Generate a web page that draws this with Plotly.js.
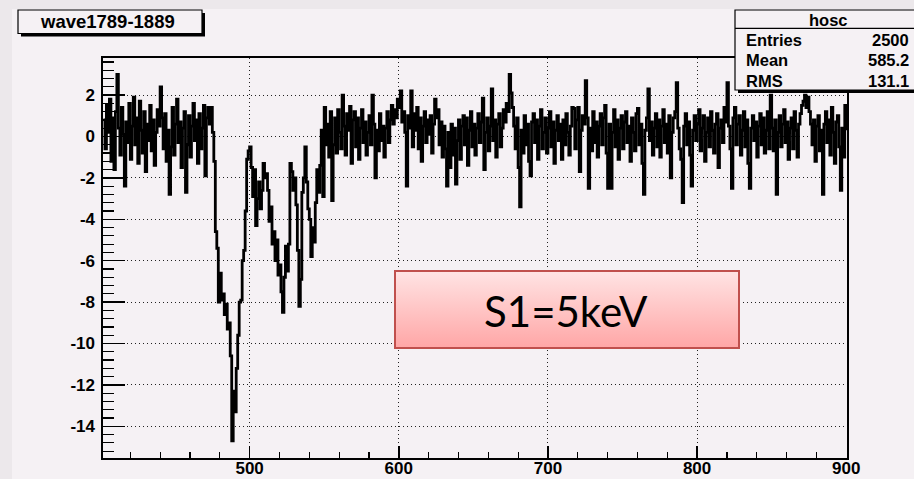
<!DOCTYPE html>
<html><head><meta charset="utf-8">
<script src="https://cdn.plot.ly/plotly-3.0.1.min.js"></script>
<style>html,body{margin:0;padding:0;background:#ece8eb}#chart{width:914px;height:479px}</style>
</head><body><div id="chart"></div>
<script>
// ---- data ----
const binStart = 402;   // first bin shown
const binWidth = 1;
// bins 402..475 : baseline before the pulse
const preTrigger = [
  0.8, -0.6, 1.5, 0.2, 1.8, -1.2, 0.9, -1.6, 1.2, 3.0,
  0.4, -0.9, 1.4, 0.1, -2.4, 0.7, -0.3, 1.6, -1.1, 0.5,
  1.9, -0.4, 0.9, -1.3, 1.7, 0.3, -0.8, 1.2, -1.7, 0.6,
  -0.2, 1.5, -0.7, 0.8, -1.4, 0.2, 1.3, 0.5, 2.4, 0.9,
  -0.6, 1.1, -1.2, 0.3, -2.8, -0.5, 1.4, -0.9, 0.6, 1.8,
  -0.3, 0.7, -1.5, 0.4, 1.2, -2.7, -0.4, 1.0, -1.0, 0.5,
  1.6, -0.2, 0.8, -1.3, 1.1, -0.6, 0.4, 1.5, -1.9, 0.9,
  1.4, 0.6, 1.4, 0.2
];
// bins 476..550 : the S1 pulse
const pulse = [
  -1.2, -4.6, -5.4, -8.0, -6.6, -7.9, -7.6, -8.6, -8.1, -9.3,
  -9.0, -10.6, -14.7, -12.3, -13.3, -11.2, -9.6, -8.0, -7.9, -6.0,
  -5.5, -3.6, -1.1, -0.7, -0.5, -1.5, -2.9, -1.6, -4.3, -3.0,
  -2.2, -3.5, -2.6, -1.3, -2.0, -1.8, -2.6, -4.1, -3.4, -5.2,
  -4.6, -6.0, -5.0, -6.7, -6.2, -7.5, -8.5, -6.8, -5.3, -6.5,
  -5.2, -1.3, -1.7, -2.6, -2.0, -3.3, -5.5, -8.2, -6.9, -2.7,
  -2.0, -0.5, -2.2, -3.5, -4.0, -5.8, -4.4, -5.1, -3.2, -1.6,
  -2.7, -1.4, 0.3, -2.9, 1.4
];
// bins 551..900 : baseline after the pulse
const baseline = [
  -0.4, 0.6, -1.0, 1.2, -3.1, -0.4, 0.9, -0.8, 1.3, 0.2,
  -0.6, 2.0, 0.5, -0.9, 1.1, 0.3, 1.45, -1.3, 0.8, 1.2,
  -0.5, 0.9, -1.1, 0.4, 1.3, -0.3, 0.7, -0.9, 0.2, 1.0,
  -0.4, 2.0, 0.6, -2.0, 0.3, -0.7, 1.1, -0.2, 0.5, -1.0,
  0.4, 1.2, -0.3, 0.8, 1.5, 0.6, 1.3, 0.9, 1.8, 1.4,
  2.2, 0.7, 1.2, 0.2, -2.4, 1.0, 0.4, 2.2, -0.5, 1.1,
  0.3, 1.4, -0.6, 0.9, -1.2, 0.5, 1.2, -0.3, 0.8, 0.1,
  1.0, -0.8, 0.6, 1.8, 0.9, 1.3, -0.4, 0.7, -1.0, 0.5,
  -0.6, -2.4, 0.2, -1.5, 0.6, -0.9, 0.4, -2.3, -0.2, 0.8,
  -1.1, 0.5, 1.0, -0.4, 0.9, -1.4, 0.3, 1.2, -0.5, 0.6,
  -0.9, 0.4, 1.1, -0.3, 0.7, 1.85, -1.6, 0.2, 0.9, -0.7,
  0.5, 2.3, -0.2, 0.8, -1.0, 0.6, 1.1, -0.5, 0.4, 1.3,
  0.7, 1.6, 1.2, 3.0, 2.1, 1.4, 0.5, -0.6, 0.9, -1.5,
  -3.4, 0.3, -0.8, 1.0, -0.4, 0.6, -1.2, -1.9, 0.7, 1.1,
  -0.3, 0.8, -1.1, 0.5, 1.3, -0.6, 0.2, 0.9, -0.8, 0.4,
  1.2, -0.5, 0.7, -1.3, 0.3, 1.0, -0.2, 0.6, -1.1, 0.8,
  -0.4, 1.1, 0.2, -0.9, 0.5, 1.4, 1.35, -0.6, 0.8, 1.4,
  -1.7, 0.3, 1.0, 0.6, 2.7, 0.9, -2.5, 0.4, -0.7, 1.2,
  -0.3, 0.7, -1.0, 0.5, 1.1, -0.4, 0.9, 1.5, -0.8, -2.5,
  0.6, -2.5, 0.2, 1.3, -0.5, 0.8, -1.1, 0.4, 1.0, -0.6,
  0.7, 1.2, -0.3, 0.5, -1.2, 0.9, 0.2, -0.7, 1.1, 1.35,
  -0.4, 0.6, -1.3, -2.8, 0.3, 0.9, 2.3, -0.2, 0.7, -0.9,
  0.4, 1.1, -0.5, 0.8, -1.0, 0.5, 1.3, -0.3, 0.6, -0.8,
  1.0, -2.0, 0.2, 0.9, 1.2, 2.6, 0.4, -0.6, -1.1, -3.2,
  0.5, 1.1, -0.4, 0.7, -0.9, -2.4, 0.3, 1.0, -0.2, 0.6,
  1.3, -0.7, 0.4, 1.0, -1.2, 0.2, 0.9, -0.5, 1.2, 0.3,
  -0.8, 0.6, 1.1, -1.5, 0.4, 0.8, -0.3, 1.4, 0.7, 2.6,
  0.5, -0.6, -2.5, 0.9, 1.4, -0.4, 0.6, 1.0, -0.9, 0.3,
  1.2, -0.5, 0.8, -1.3, -2.5, 0.4, 1.0, -0.2, 0.7, -1.0,
  0.5, 1.1, -0.4, 0.9, -0.8, 0.3, 1.2, -0.6, 2.0, 0.4,
  -0.7, 0.8, -2.8, 0.2, 1.0, -0.5, 0.6, 1.3, -0.3, 0.7,
  -1.1, 0.4, 0.9, -0.6, 1.2, 0.3, -1.0, 0.6, 1.1, 1.5,
  1.7, 2.0, 1.4, 1.9, 1.2, 0.6, -0.4, 0.8, -1.2, 0.5,
  1.0, -0.7, 0.3, -2.8, 0.6, 1.2, -0.3, 0.8, -0.9, 1.4,
  0.2, -1.3, 0.7, 1.0, -0.5, -2.6, 0.4, -1.0, 1.5, 0.3
];
const xTickValues = [500, 600, 700, 800, 900];
const xTickLabels = ['500', '600', '700', '800', '900'];
const yTickValues = [-14, -12, -10, -8, -6, -4, -2, 0, 2];
const yTickLabels = ['-14', '-12', '-10', '-8', '-6', '-4', '-2', '0', '2'];
const histTitle = 'wave1789-1889';
const statsName = 'hosc';
const statsLabels = ['Entries', 'Mean', 'RMS'];
const statsValues = ['2500', '585.2', '131.1'];
const noteText = 'S1=5keV';

// ---- layout geometry ----
const W = 914, H = 479, L = 103, R = 67, T = 58, B = 21;
const pw = W - L - R, ph = H - T - B;
const px = v => (v - L) / pw;
const py = v => (H - B - v) / ph;
const BG = '#f5f1f4';
const boldFont = (s) => ({family: 'Liberation Sans, Arial, sans-serif', size: s, weight: 'bold', color: '#000'});

const values = preTrigger.concat(pulse, baseline);

const trace = {
  type: 'scatter', mode: 'lines',
  x0: binStart, dx: binWidth, y: values,
  line: {color: '#000', width: 2.8, shape: 'hv'},
  hoverinfo: 'skip', showlegend: false
};

const gradSvg = "<svg xmlns='http://www.w3.org/2000/svg' width='346' height='79' viewBox='0 0 346 79' preserveAspectRatio='none'>" +
  "<defs><linearGradient id='g' x1='0' y1='0' x2='0' y2='1'><stop offset='0' stop-color='#ffe4e4'/><stop offset='1' stop-color='#ffa6a6'/></linearGradient></defs>" +
  "<rect x='1' y='1' width='344' height='77' fill='url(#g)' stroke='#c0504d' stroke-width='2'/></svg>";
const gradSrc = 'data:image/svg+xml;charset=utf-8,' + encodeURIComponent(gradSvg);

const shapes = [
  {type: 'rect', xref: 'paper', yref: 'paper', x0: px(12), x1: px(916), y0: py(481), y1: py(9), fillcolor: BG, line: {width: 0}, layer: 'below'},
  {type: 'rect', xref: 'paper', yref: 'paper', x0: px(21), x1: px(205), y0: py(36.5), y1: py(13), fillcolor: '#000', line: {width: 0}, layer: 'above'},
  {type: 'rect', xref: 'paper', yref: 'paper', x0: px(18), x1: px(202), y0: py(33.5), y1: py(10), fillcolor: BG, line: {color: '#000', width: 1.2}, layer: 'above'},
  {type: 'rect', xref: 'paper', yref: 'paper', x0: px(738), x1: px(920), y0: py(93), y1: py(13), fillcolor: '#000', line: {width: 0}, layer: 'above'},
  {type: 'rect', xref: 'paper', yref: 'paper', x0: px(735), x1: px(918), y0: py(90), y1: py(10), fillcolor: BG, line: {color: '#000', width: 1.2}, layer: 'above'},
  {type: 'line', xref: 'paper', yref: 'paper', x0: px(735), x1: px(918), y0: py(28.3), y1: py(28.3), line: {color: '#000', width: 1.2}, layer: 'above'}
];

const annotations = [
  {xref: 'paper', yref: 'paper', x: px(107), y: py(22), text: histTitle, showarrow: false, xanchor: 'center', yanchor: 'middle', font: boldFont(18.5)},
  {xref: 'paper', yref: 'paper', x: px(828), y: py(19.5), text: statsName, showarrow: false, xanchor: 'center', yanchor: 'middle', font: boldFont(16.5)},
  {xref: 'paper', yref: 'paper', x: px(566), y: py(310.5), text: noteText, showarrow: false, xanchor: 'center', yanchor: 'middle', font: {family: 'Lato, sans-serif', size: 42, color: '#000'}}
];
const rowY = [40, 60, 81];
statsLabels.forEach((lab, i) => {
  annotations.push({xref: 'paper', yref: 'paper', x: px(744), y: py(rowY[i]), text: lab, showarrow: false, xanchor: 'left', yanchor: 'middle', font: boldFont(16.5)});
  annotations.push({xref: 'paper', yref: 'paper', x: px(911), y: py(rowY[i]), text: statsValues[i], showarrow: false, xanchor: 'right', yanchor: 'middle', font: boldFont(16.5)});
});

const layout = {
  width: W, height: H,
  margin: {l: L, r: R, t: T, b: B, pad: 0},
  paper_bgcolor: '#ece8eb', plot_bgcolor: BG,
  showlegend: false,
  xaxis: {
    range: [401.7, 900.5], tickmode: 'array', tickvals: xTickValues, ticktext: xTickLabels,
    ticks: 'inside', ticklen: 12, tickwidth: 1.5, tickcolor: '#000',
    showline: true, linecolor: '#000', linewidth: 1.6, mirror: true,
    showgrid: true, gridcolor: '#222', gridwidth: 1, griddash: '1px,3px', zeroline: false,
    minor: {tickmode: 'linear', tick0: 0, dtick: 20, ticks: 'inside', ticklen: 6, tickwidth: 1.2, tickcolor: '#000', showgrid: false},
    tickfont: boldFont(17), ticklabelstandoff: -6, automargin: false, fixedrange: true
  },
  yaxis: {
    range: [-15.53, 3.79], tickmode: 'array', tickvals: yTickValues, ticktext: yTickLabels,
    ticks: 'inside', ticklen: 22, tickwidth: 1.5, tickcolor: '#000',
    showline: true, linecolor: '#000', linewidth: 1.6, mirror: true,
    showgrid: true, gridcolor: '#222', gridwidth: 1, griddash: '1px,3px', zeroline: false,
    minor: {tickmode: 'linear', tick0: 0, dtick: 0.4, ticks: 'inside', ticklen: 11, tickwidth: 1.2, tickcolor: '#000', showgrid: false},
    tickfont: boldFont(17), ticklabelstandoff: 3, automargin: false, fixedrange: true
  },
  shapes: shapes,
  annotations: annotations,
  images: [{source: gradSrc, xref: 'paper', yref: 'paper', x: px(394), y: py(270), sizex: (740 - 394) / pw, sizey: (349 - 270) / ph, sizing: 'stretch', xanchor: 'left', yanchor: 'top', layer: 'above'}]
};

Plotly.newPlot('chart', [trace], layout, {staticPlot: true, displayModeBar: false});
</script></body></html>
